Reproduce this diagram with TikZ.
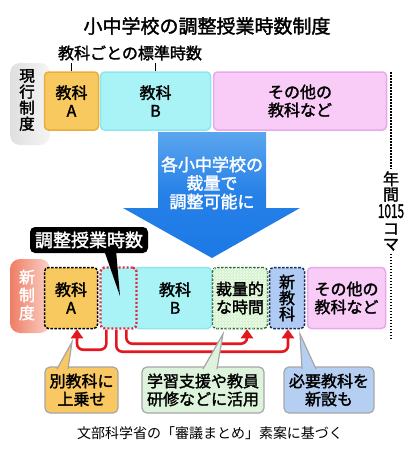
\documentclass[tikz,border=0pt]{standalone}
\usepackage{fontspec}
\setmainfont{Noto Sans CJK JP}[FakeBold=1.8]
\newfontfamily\plainjp{Noto Sans CJK JP}
\usetikzlibrary{arrows.meta,positioning,patterns}

\definecolor{subjA}{HTML}{F8C95E}
\definecolor{subjAline}{HTML}{E6AE3E}
\definecolor{subjB}{HTML}{A9F3F6}
\definecolor{subjBline}{HTML}{8CE8EE}
\definecolor{other}{HTML}{F8CCF7}
\definecolor{otherline}{HTML}{E8A8EB}
\definecolor{disc}{HTML}{D6F4CF}
\definecolor{discline}{HTML}{2F6B35}
\definecolor{newsub}{HTML}{AFCBF3}
\definecolor{newsubline}{HTML}{1E2B57}
\definecolor{adjline}{HTML}{D9303F}
\definecolor{arrowred}{HTML}{E3181E}
\definecolor{bigtop}{HTML}{5BA6EE}
\definecolor{bigbottom}{HTML}{1C79E6}
\definecolor{noteA}{HTML}{F9C862}
\definecolor{noteC}{HTML}{DDF3DB}
\definecolor{noteN}{HTML}{B5CFF3}
\definecolor{lblred}{HTML}{F07D64}

\begin{document}
\begin{tikzpicture}[x=1pt,y=-1pt,
  box/.style={rounded corners=4pt,line width=1.5pt,inner sep=0pt,align=center,
    font=\fontsize{16}{18}\selectfont},
  dashbox/.style={box,dash pattern=on 2.5pt off 1.5pt},
  note/.style={rounded corners=5pt,draw=gray!70,line width=1.2pt,inner sep=0pt,
    align=center,minimum height=46pt,font=\fontsize{16}{18}\selectfont},
  tip/.style={draw=gray!70,line width=1.2pt},
  redarrow/.style={draw=arrowred,line width=2.6pt,rounded corners=6pt,
    -{Triangle[length=9pt,width=12pt]},
    preaction={draw=white,line width=5pt,-,shorten >=5pt}},
  vlabel/.style={align=center,inner sep=0pt,font=\fontsize{15.5}{16}\selectfont}]
\useasboundingbox (0,0) rectangle (417,450);

% title
\node (title) at (207,26) {\fontsize{19}{21}\selectfont 小中学校の調整授業時数制度};
\node (std) at (130,53) {\fontsize{16}{18}\selectfont 教科ごとの標準時数};

% current system
\shade[left color=gray!25,right color=gray!8,rounded corners=10pt] (10,63) rectangle (50,145);
\node (cur) [vlabel] at (27,100) {現\\行\\制\\度};
\node (curA) [box,draw=subjAline,fill=subjA,minimum width=54pt,minimum height=58pt] at (71.5,101) {教科\\A};
\node (curB) [box,draw=subjBline,fill=subjB,minimum width=110pt,minimum height=58pt] at (155.5,101) {教科\\B};
\node (curO) [box,draw=otherline,fill=other,minimum width=173pt,minimum height=58pt] at (300,101) {その他の\\教科など};
\draw[line width=0.8pt] (curA.north) -- ++(0,-8);
\draw[line width=0.8pt] (curB.north) -- ++(0,-8);

% big arrow
\shade[top color=bigtop,bottom color=bigbottom,middle color=bigbottom!85!bigtop]
  (158,132) -- (266,132) -- (266,208) -- (300,208) -- (212,258) -- (123,208) -- (158,208) -- cycle;
\node (change) [align=center,text=white,font=\fontsize{17}{18.5}\selectfont] at (212,183) {各小中学校の\\裁量で\\調整可能に};

% annual total
\node (yearly) [align=center,inner sep=0pt,font=\fontsize{16}{15.5}\selectfont] at (391,211)
  {年\\間\\[2pt]\scalebox{0.62}[1]{\fontsize{19}{16}\selectfont 1015}\\[1pt]コ\\マ};
\draw[line width=1.2pt,dash pattern=on 1.5pt off 1.5pt] (391,72) -- ([yshift=3pt]yearly.north);
\draw[line width=1.2pt,dash pattern=on 1.5pt off 1.5pt] ([yshift=-3pt]yearly.south) -- (391,338);

% new system
\shade[left color=lblred,right color=lblred!35,rounded corners=10pt] (10,259) rectangle (50,333);
\node (new) [vlabel,text=white,font=\fontsize{16}{18}\selectfont] at (27,295) {新\\制\\度};
\node (newA) [dashbox,draw=black,fill=subjA,minimum width=53pt,minimum height=61pt] at (71,298) {教科\\A};
\node (newB) [box,draw=subjBline,fill=subjB,minimum width=77pt,minimum height=61pt] at (173,298) {\hspace*{4pt}教科\\\hspace*{4pt}B};
\node (adj) [box,draw=adjline,fill=subjB,line width=2.4pt,dash pattern=on 2pt off 2pt,
  minimum width=36pt,minimum height=61pt] at (118.5,298) {};
\node (disc) [dashbox,draw=discline,fill=disc,postaction={pattern=north east lines,pattern color=white},
  minimum width=55pt,minimum height=61pt] at (240,298) {};
\node (disctext) [align=center,inner sep=0pt,font=\fontsize{16}{18}\selectfont] at (disc) {裁量的\\な時間};
\node (newS) [dashbox,draw=newsubline,fill=newsub,minimum width=35pt,minimum height=61pt,
  font=\fontsize{16}{16}\selectfont] at (287,298) {新\\教\\科};
\node (newO) [box,draw=otherline,fill=other,minimum width=78pt,minimum height=61pt] at (346.5,298) {その他の\\教科など};

% adjustment label
\node (adjlabel) [fill=black,text=white,rounded corners=5pt,inner sep=0pt,minimum width=118pt,
  minimum height=26pt,font=\fontsize{18}{20}\selectfont] at (89,240) {調整授業時数};
\fill (104,250) -- (120,296) -- (116,250) -- cycle;

% redistribution
\draw[redarrow] ([xshift=7pt]adj.south west) -- ++(0,20) -| ([xshift=6pt]newA.south);
\draw[redarrow] ([xshift=27pt]adj.south west) -- ++(0,14) -| ([xshift=7pt]disc.south);
\draw[redarrow] ([xshift=17pt]adj.south west) -- ++(0,22) -| ([xshift=1pt]newS.south);

% notes
\node (noteAbox) [note,fill=noteA,minimum width=73pt] at (81.5,390) {別教科に\\上乗せ};
\draw[tip,fill=noteA] (57,369) -- (72,342) -- (68,369);
\node (noteCbox) [note,fill=noteC,minimum width=122pt] at (203,390) {学習支援や教員\\研修などに活用};
\draw[tip,fill=noteC] (203,369) -- (223,334) -- (217,369);
\node (noteNbox) [note,fill=noteN,minimum width=90pt] at (329,390) {必要教科を\\新設も};
\draw[tip,fill=noteN] (302,369) -- (300,334) -- (316,369);

\node (source) at (210,433) {\plainjp\fontsize{14}{16}\selectfont 文部科学省の「審議まとめ」素案に基づく};
\end{tikzpicture}
\end{document}
